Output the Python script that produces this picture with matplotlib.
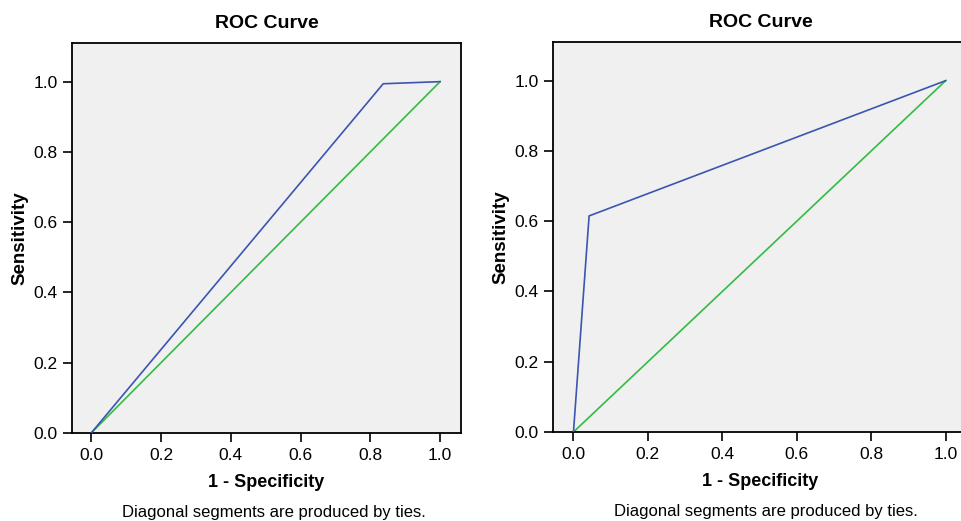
import matplotlib
matplotlib.use('Agg')
import matplotlib.pyplot as plt

# ROC curves (1 - specificity, sensitivity)
left_fpr = [0.0, 0.837, 1.0]
left_tpr = [0.0, 0.994, 1.0]
right_fpr = [0.0, 0.042, 1.0]
right_tpr = [0.0, 0.615, 1.0]
ref_line = [0.0, 1.0]
ticks = [0.0, 0.2, 0.4, 0.6, 0.8, 1.0]

plt.rcParams['font.family'] = ['Liberation Sans', 'DejaVu Sans']

BLUE = '#3b55b0'
GREEN = '#33bb44'
BG = '#f0f0f0'


def draw_roc(ax, fpr, tpr):
    ax.set_facecolor(BG)
    ax.plot(ref_line, ref_line, color=GREEN, lw=1.2, zorder=2)
    ax.plot(fpr, tpr, color=BLUE, lw=1.2, zorder=3)
    ax.set_xlim(-0.055, 1.06)
    ax.set_ylim(0.0, 1.11)
    ax.set_xticks(ticks)
    ax.set_yticks(ticks)
    ax.set_xticklabels([f"{t:.1f}" for t in ticks])
    ax.set_yticklabels([f"{t:.1f}" for t in ticks])
    ax.tick_params(direction='out', length=6.5, width=1.2, labelsize=12.5, pad=4)
    for s in ax.spines.values():
        s.set_linewidth(1.3)
        s.set_color('black')
    ax.set_title('ROC Curve', fontsize=14, fontweight='bold', pad=11)
    ax.set_xlabel('1 - Specificity', fontsize=13, fontweight='bold', labelpad=8)
    ax.set_ylabel('Sensitivity', fontsize=13.5, fontweight='bold', labelpad=3.5)


fig = plt.figure(figsize=(9.62, 5.21), dpi=100)
ax1 = fig.add_axes([72 / 962, 1 - 433 / 521, 389 / 962, 390 / 521])
ax2 = fig.add_axes([553 / 962, 1 - 432 / 521, 415 / 962, 390 / 521])

draw_roc(ax1, left_fpr, left_tpr)
draw_roc(ax2, right_fpr, right_tpr)

fig.text(274 / 962, 1 - 512 / 521, 'Diagonal segments are produced by ties.',
         ha='center', va='center', fontsize=12)
fig.text(766 / 962, 1 - 511.5 / 521, 'Diagonal segments are produced by ties.',
         ha='center', va='center', fontsize=12)

fig.savefig('out.png', dpi=100)
